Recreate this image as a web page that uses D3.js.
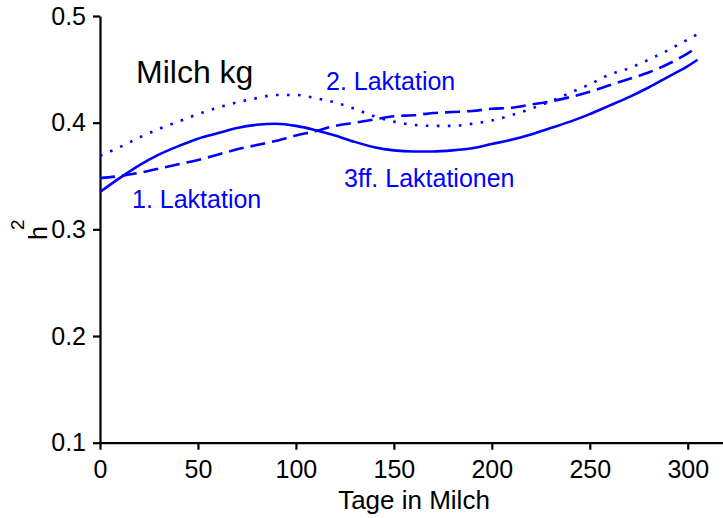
<!DOCTYPE html>
<html>
<head>
<meta charset="utf-8">
<script src="https://cdn.jsdelivr.net/npm/d3@7"></script>
<style>
    body { margin: 0; background: #fff; }
    svg { display: block; font-family: Arial, "Liberation Sans", sans-serif; }
</style>
</head>
<body>
<div id="chart"></div>
<script>
// ******* DATA *******
// days in milk
const days = [0, 10, 20, 30, 40, 50, 60, 70, 80, 90, 100, 110, 120, 130, 140, 150,
    160, 170, 180, 190, 200, 210, 220, 230, 240, 250, 260, 270, 280, 290, 300, 305];

// heritability curves
const solidH2 = [0.335, 0.348, 0.360, 0.370, 0.378, 0.385, 0.390, 0.395, 0.398, 0.399, 0.397,
    0.393, 0.388, 0.382, 0.377, 0.374, 0.373, 0.373, 0.374, 0.376, 0.380, 0.384, 0.389,
    0.395, 0.401, 0.408, 0.416, 0.424, 0.433, 0.443, 0.453, 0.459];
const dashedH2 = [0.348, 0.350, 0.353, 0.357, 0.361, 0.365, 0.370, 0.375, 0.379, 0.383, 0.388,
    0.392, 0.397, 0.400, 0.403, 0.406, 0.407, 0.409, 0.410, 0.411, 0.413, 0.414, 0.417,
    0.420, 0.424, 0.429, 0.435, 0.441, 0.447, 0.455, 0.465, 0.471];
const dottedH2 = [0.369, 0.377, 0.386, 0.394, 0.401, 0.408, 0.414, 0.419, 0.423, 0.426, 0.426,
    0.423, 0.419, 0.413, 0.406, 0.401, 0.398, 0.397, 0.397, 0.399, 0.402, 0.407, 0.413,
    0.420, 0.428, 0.436, 0.445, 0.451, 0.459, 0.468, 0.478, 0.483];

const xTicks = [0, 50, 100, 150, 200, 250, 300];
const yTicks = [0.1, 0.2, 0.3, 0.4, 0.5];

// ******* SETUP *******
const width = 723, height = 518;
const blue = "#0000ff";

const svg = d3.select("#chart").append("svg")
    .attr("width", width)
    .attr("height", height);

const x = d3.scaleLinear().domain([0, 318]).range([100, 723]);
const y = d3.scaleLinear().domain([0.1, 0.5]).range([442.7, 16]);

// ******* AXES *******
const xAxis = svg.append("g")
    .attr("transform", `translate(0,${y(0.1)})`)
    .call(d3.axisBottom(x).tickValues(xTicks).tickSize(7).tickPadding(11).tickSizeOuter(0));

const yAxis = svg.append("g")
    .attr("transform", `translate(${x(0)},0)`)
    .call(d3.axisLeft(y).tickValues(yTicks).tickSize(7).tickPadding(7).tickSizeOuter(0)
        .tickFormat(d3.format(".1f")));

[xAxis, yAxis].forEach(g => {
    g.selectAll("path, line").attr("stroke", "#000").attr("stroke-width", 2.2);
    g.selectAll("text").attr("fill", "#000").style("font-size", "25px")
        .style("font-family", "Arial, 'Liberation Sans', sans-serif");
});

// axis titles
svg.append("text")
    .attr("x", 414)
    .attr("y", 509)
    .attr("text-anchor", "middle")
    .style("font-size", "26px")
    .text("Tage in Milch");

const yTitle = svg.append("text")
    .attr("transform", "translate(47,0) rotate(-90)")
    .attr("x", -240)
    .style("font-size", "25px");
yTitle.append("tspan").text("h");
yTitle.append("tspan").attr("dx", -4).attr("dy", -23).style("font-size", "19px").text("2");

// ******* LINES *******
const line = vals => d3.line()
    .x((d, i) => x(days[i]))
    .y(d => y(d))
    .curve(d3.curveMonotoneX)(vals);

const series = [
    { vals: dottedH2, dash: "2.6,8.4" },
    { vals: dashedH2, dash: "15,7" },
    { vals: solidH2, dash: null }
];

svg.append("g").selectAll("path")
    .data(series)
    .join("path")
    .attr("d", d => line(d.vals))
    .attr("fill", "none")
    .attr("stroke", blue)
    .attr("stroke-width", 2.6)
    .attr("stroke-dasharray", d => d.dash);

// ******* LABELS *******
svg.append("text")
    .attr("x", 136).attr("y", 83)
    .style("font-size", "32px")
    .text("Milch kg");

const labels = [
    { text: "2. Laktation", x: 326, y: 90 },
    { text: "1. Laktation", x: 132, y: 208 },
    { text: "3ff. Laktationen", x: 344, y: 187 }
];

svg.append("g").selectAll("text")
    .data(labels)
    .join("text")
    .attr("x", d => d.x)
    .attr("y", d => d.y)
    .attr("fill", blue)
    .style("font-size", "25px")
    .text(d => d.text);
</script>
</body>
</html>
